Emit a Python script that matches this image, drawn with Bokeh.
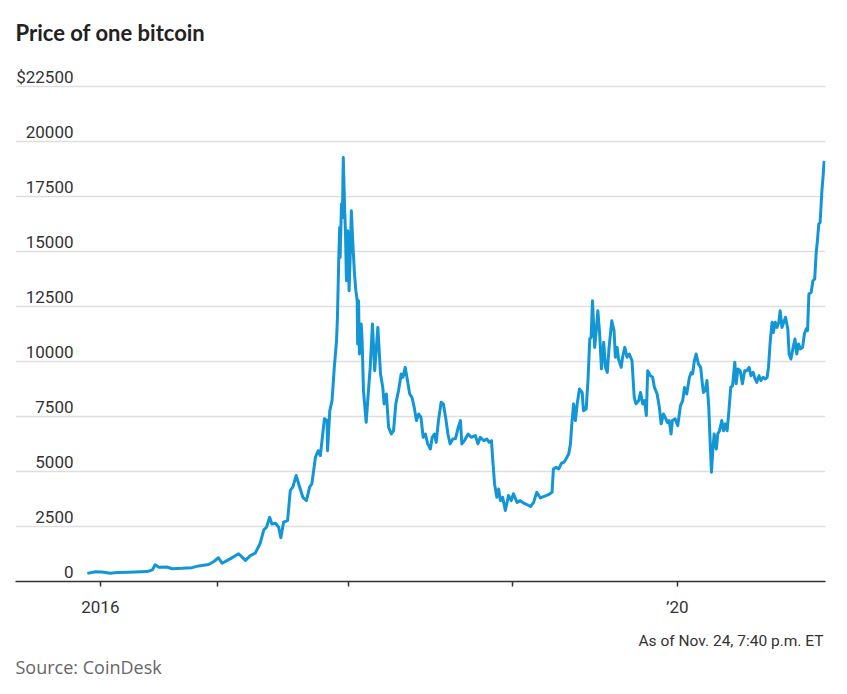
from bokeh.plotting import figure
from bokeh.models import Range1d, FixedTicker, Grid, Label, Title, ColumnDataSource
from bokeh.embed import file_html
from bokeh.resources import INLINE

# Observation number (one per quoted day; early years carry weekdays only)
obs = [
    0, 18, 33, 51, 66, 92, 133, 145, 151, 159, 177, 189, 211, 233, 248, 270, 281, 292,
    300, 318, 337, 352, 363, 374, 385, 393, 399, 406, 411, 419, 426, 431, 437, 446,
    452, 458, 465, 473, 480, 488, 495, 500, 508, 514, 519, 528, 534, 535, 540, 545,
    550, 555, 557, 560, 562, 563, 566, 568, 570, 573, 575, 577, 580, 583, 586, 588,
    591, 595, 598, 601, 602, 604, 606, 610, 612, 615, 621, 625, 630, 635, 640, 647,
    653, 658, 661, 666, 671, 677, 682, 687, 693, 699, 703, 708, 713, 718, 723, 728,
    733, 738, 743, 748, 753, 758, 764, 768, 773, 777, 782, 788, 793, 799, 803, 808,
    814, 820, 826, 831, 834, 840, 848, 855, 864, 870, 875, 883, 890, 895, 900, 903,
    907, 912, 916, 920, 925, 931, 938, 944, 949, 957, 964, 972, 979, 987, 994, 1001,
    1009, 1016, 1027, 1035, 1038, 1044, 1050, 1056, 1061, 1064, 1072, 1076, 1079, 1083, 1087, 1091,
    1096, 1102, 1105, 1111, 1115, 1119, 1122, 1125, 1130, 1134, 1137, 1141, 1145, 1150, 1154, 1158,
    1162, 1168, 1173, 1176, 1180, 1183, 1189, 1192, 1197, 1202, 1207, 1213, 1218, 1222, 1228, 1232,
    1237, 1241, 1245, 1248, 1254, 1259, 1263, 1269, 1274, 1278, 1283, 1287, 1292, 1296, 1300, 1303,
    1309, 1315, 1321, 1326, 1330, 1335, 1341, 1345, 1348, 1352, 1356, 1361, 1366, 1369, 1372, 1376,
    1380, 1384, 1387, 1390, 1393, 1396, 1401, 1404, 1408, 1413, 1417, 1421, 1425, 1428, 1433, 1437,
    1442, 1445, 1449, 1454, 1459, 1464, 1469, 1474, 1478, 1483, 1486, 1491, 1496, 1500, 1505, 1510,
    1514, 1517, 1521, 1525, 1528, 1532, 1536, 1540, 1543, 1547, 1551, 1555, 1560, 1563, 1567, 1572,
    1576, 1580, 1584, 1588, 1593, 1597, 1601, 1604, 1607, 1612, 1616, 1620, 1623, 1626, 1629, 1632,
    1636, 1639, 1641,
]

# Price of one bitcoin, US dollars
price = [
    370, 445, 430, 380, 410, 420, 450, 530, 760, 650, 660, 580, 600, 630, 710, 770, 900, 1080,
    830, 1030, 1260, 960, 1180, 1290, 1740, 2350, 2470, 2920, 2620, 2650, 2470, 1990, 2700, 2770,
    4140, 4320, 4820, 4290, 3830, 3680, 4290, 4440, 5650, 5950, 5730, 7400, 7320, 5950, 7770, 8230,
    9740, 10950, 12010, 14740, 16100, 14740, 17170, 16560, 19290, 17010, 15800, 13680, 15950, 13230, 15200, 16860,
    15500, 13980, 13230, 12770, 10800, 12770, 10350, 11710, 10950, 8680, 7240, 8380, 9740, 11710, 9590, 11560,
    9440, 8830, 8080, 8530, 7010, 6710, 6860, 8080, 8680, 9440, 9290, 9740, 9140, 8530, 8380, 7920,
    7320, 7620, 7470, 6560, 6710, 6260, 6030, 6560, 6710, 6330, 7320, 8150, 8080, 7320, 6710, 6260,
    6480, 6500, 7010, 7320, 6260, 6410, 6710, 6560, 6640, 6260, 6560, 6410, 6480, 6330, 6410, 5500,
    4440, 3830, 4210, 3680, 3830, 3230, 3910, 3680, 3990, 3600, 3680, 3560, 3500, 3410, 3600, 4060,
    3800, 3860, 3950, 4060, 5120, 5200, 5120, 5380, 5420, 5500, 5800, 6260, 7170, 8080, 7320, 8080,
    8760, 8600, 7770, 7850, 9140, 11030, 11100, 12770, 10650, 11560, 12320, 11260, 9670, 10880, 9740, 9510,
    10650, 11860, 11410, 10200, 10650, 10120, 9740, 10200, 10650, 10200, 10350, 10050, 8380, 8080, 8230, 8600,
    8080, 8230, 7550, 9590, 9360, 9290, 8830, 8530, 7920, 7170, 7620, 7470, 7240, 7320, 6710, 7320,
    7400, 7090, 8000, 8230, 8830, 8530, 9290, 9510, 9440, 10050, 10350, 9890, 9740, 9140, 8600, 8680,
    9140, 7920, 6410, 4970, 5950, 6710, 6030, 6710, 6860, 7320, 6860, 7170, 6860, 7550, 8830, 8910,
    9970, 8990, 9670, 9590, 8990, 9590, 9590, 9740, 9360, 9510, 9290, 9060, 9360, 9140, 9290, 9210,
    9290, 9740, 10950, 11790, 11330, 11790, 11560, 11790, 12320, 11560, 11790, 12020, 11490, 10350, 10120, 10650,
    11030, 10350, 10800, 10580, 10650, 11260, 11490, 11410, 13080, 13150, 13680, 13760, 14890, 15500, 16260, 16330,
    17770, 18530, 19130,
]

# Year boundaries on the observation axis
year_ticks = [29, 290, 581, 946, 1314]
year_labels = ["2016", "", "", "", "\u201920"]

price_ticks = [0, 2500, 5000, 7500, 10000, 12500, 15000, 17500, 20000, 22500]
price_labels = ["0", "2500", "5000", "7500", "10000", "12500", "15000", "17500", "20000", "$22500"]

FONT = "Roboto"
INK = "#333333"

src = ColumnDataSource(data=dict(obs=obs, price=price))

p = figure(
    width=847, height=694,
    output_backend="svg", toolbar_location=None,
    x_range=Range1d(-160, 1644), y_range=Range1d(0, 23700),
    y_axis_location=None, title=None,
    min_border_left=15, min_border_right=22,
    min_border_top=60, min_border_bottom=113,
    outline_line_color=None,
    background_fill_color="white", border_fill_color="white",
)

# horizontal rules
for g in p.grid:
    g.visible = False
p.add_layout(Grid(dimension=1, ticker=FixedTicker(ticks=price_ticks),
                  grid_line_color="#dedede", grid_line_width=1.3))

# time axis
ax = p.xaxis[0]
ax.ticker = FixedTicker(ticks=year_ticks)
ax.major_label_overrides = dict(zip(year_ticks, year_labels))
ax.axis_line_color = INK
ax.axis_line_width = 1.5
ax.major_tick_line_color = INK
ax.major_tick_line_width = 1.5
ax.major_tick_in = 0
ax.major_tick_out = 5
ax.minor_tick_line_color = None
ax.major_label_standoff = 10
ax.major_label_text_font = FONT
ax.major_label_text_font_size = "17px"
ax.major_label_text_color = INK

p.line(x="obs", y="price", source=src, line_color="#1396d6", line_width=3,
       line_join="round")

# price labels sit on top of their rules
for v, t in zip(price_ticks, price_labels):
    p.add_layout(Label(x=58, x_units="screen", y=v, y_units="data", text=t,
                       text_align="right", text_baseline="alphabetic", y_offset=10,
                       text_font=FONT, text_font_size="17px", text_color=INK))

p.add_layout(Title(text="Price of one bitcoin", align="left", text_font="Lato",
                   text_font_style="bold", text_font_size="22px",
                   text_color="#222222", standoff=30), "above")

p.add_layout(Title(text="As of Nov. 24, 7:40 p.m. ET", align="right", offset=2,
                   text_font=FONT, text_font_size="15.5px", text_font_style="normal",
                   text_color=INK, standoff=20), "below")

p.add_layout(Title(text="Source: CoinDesk", align="left", text_font="Open Sans",
                   text_font_size="18px", text_font_style="normal",
                   text_color="#666666", standoff=-14), "below")

open("out.html", "w").write(file_html(p, INLINE))
